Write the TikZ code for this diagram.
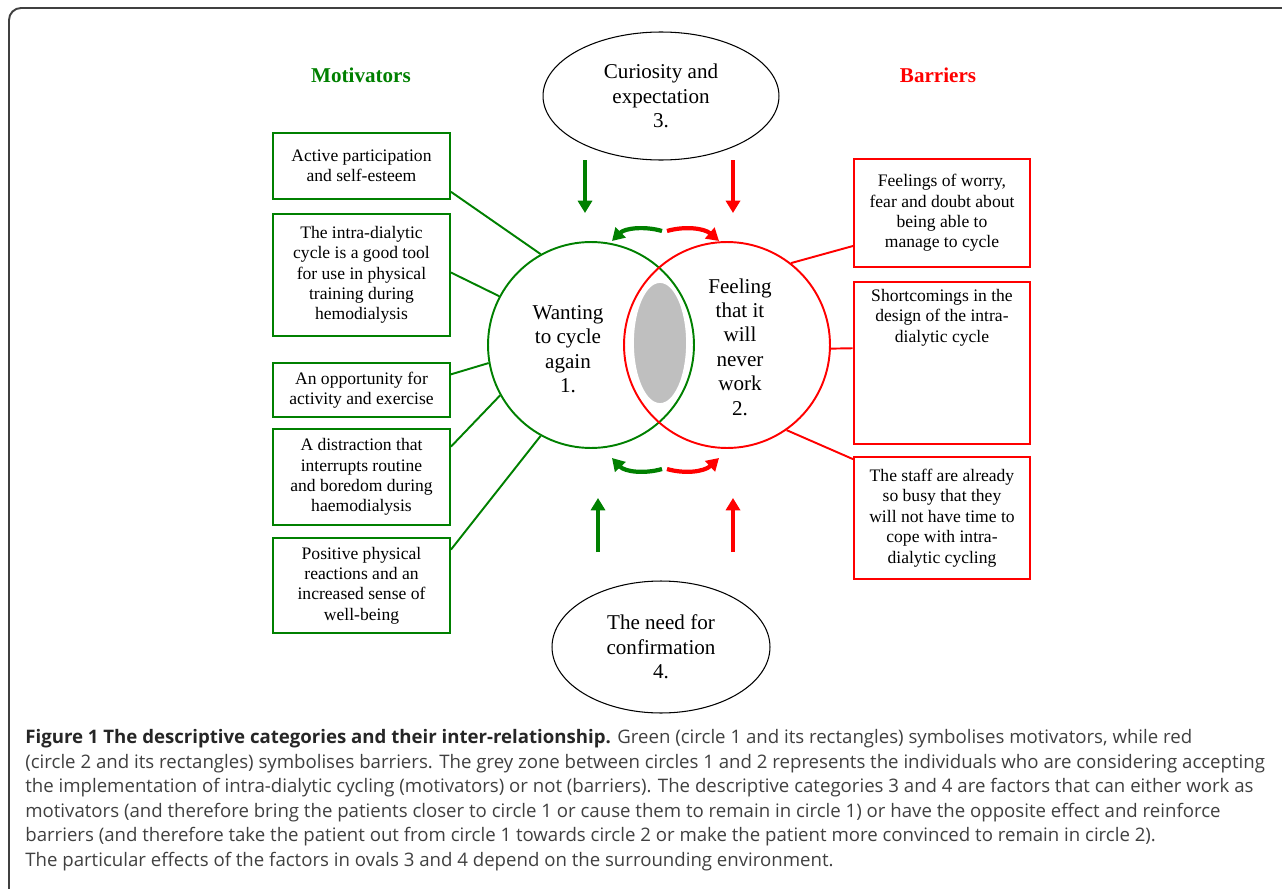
\documentclass[tikz,border=0pt]{standalone}
\usepackage{fontspec}
\setmainfont{Liberation Serif}
\newfontfamily\captionfont{Open Sans}
\usetikzlibrary{shapes.geometric,arrows.meta,calc}
\definecolor{motgreen}{RGB}{0,128,0}
\definecolor{barred}{RGB}{255,0,0}

\begin{document}
\begin{tikzpicture}[x=0.02cm,y=-0.02cm]

\tikzset{motbox/.style={draw=motgreen, line width=1.1pt, rectangle, minimum width=3.54cm, align=center, font=\fontsize{10}{11.6}\selectfont}}
\tikzset{barbox/.style={draw=barred, line width=1.1pt, rectangle, minimum width=3.52cm, align=center, font=\fontsize{10}{11.6}\selectfont}}
\tikzset{motline/.style={draw=motgreen, line width=1.1pt}}
\tikzset{barline/.style={draw=barred, line width=1.1pt}}
\tikzset{factor/.style={draw, ellipse, line width=0.6pt, inner sep=0pt, align=center, font=\fontsize{12}{13.9}\selectfont}}
\tikzset{bigtext/.style={align=center, font=\fontsize{12}{13.9}\selectfont}}
\tikzset{push/.style={line width=2.4pt, -{Triangle[width=8pt,length=7pt]}}}

\useasboundingbox (0,0) rectangle (1282,889);

% frame
\draw[line width=1.1pt, black!75, rounded corners=0.24cm] (9,889) -- (9,8) -- (1282,8);

% column titles
\node[text=motgreen, font=\fontsize{12}{14}\selectfont\bfseries] at (361,75) (mottitle) {Motivators};
\node[text=barred, font=\fontsize{12}{14}\selectfont\bfseries] at (938,75) (bartitle) {Barriers};

% circles 1 and 2, grey zone
\node[circle, draw=motgreen, line width=1.1pt, minimum size=4.12cm, inner sep=0pt] at (591,345) (want) {};
\node[circle, draw=barred, line width=1.1pt, minimum size=4.12cm, inner sep=0pt] at (727,345) (never) {};
\node[ellipse, fill=gray!50, draw=white, line width=1pt, minimum width=1.08cm, minimum height=2.44cm, inner sep=0pt] at (660,343) (grey) {};
\node[bigtext] at (568,349) (wanttext) {Wanting\\to cycle\\again\\1.};
\node[bigtext] at (740,347) (nevertext) {Feeling\\that it\\will\\never\\work\\2.};

% ovals 3 and 4
\node[factor, minimum width=4.72cm, minimum height=2.56cm] at (661,96) (curious) {Curiosity and\\expectation\\3.};
\node[factor, minimum width=4.36cm, minimum height=2.64cm] at (661,647) (confirm) {The need for\\confirmation\\4.};

% motivators
\node[motbox, minimum height=1.32cm] at (361.5,166) (m1) {Active participation\\and self-esteem};
\node[motbox, minimum height=2.44cm] at (361.5,275) (m2) {The intra-dialytic\\cycle is a good tool\\for use in physical\\training during\\hemodialysis};
\node[motbox, minimum height=1.08cm] at (361.5,390) (m3) {An opportunity for\\activity and exercise};
\node[motbox, minimum height=1.92cm] at (361.5,477) (m4) {A distraction that\\interrupts routine\\and boredom during\\ haemodialysis};
\node[motbox, minimum height=1.9cm] at (361.5,585.5) (m5) {Positive physical\\reactions and an\\increased sense of\\well-being};

% barriers
\node[barbox, minimum height=2.16cm] at (942,213) (b1) {Feelings of worry,\\fear and doubt about\\being able to\\manage to cycle};
\node[barbox, minimum height=3.24cm] at (942,363) (b2) {\begin{minipage}[t][2.95cm][t]{3.3cm}\centering Shortcomings in the\\design of the intra-\\dialytic cycle\end{minipage}};
\node[barbox, minimum height=2.44cm] at (942,518) (b3) {The staff are already\\so busy that they\\will not have time to\\cope with intra-\\dialytic cycling};

% links
\draw[motline] ($(m1.south east)!0.12!(m1.north east)$) -- (want.119);
\draw[motline] ($(m2.south east)!0.52!(m2.north east)$) -- (want.152);
\draw[motline] ($(m3.south east)!0.78!(m3.north east)$) -- (want.190);
\draw[motline] ($(m4.south east)!0.81!(m4.north east)$) -- (want.209);
\draw[motline] ($(m5.south east)!0.87!(m5.north east)$) -- (want.241);
\draw[barline] ($(b1.south west)!0.2!(b1.north west)$) -- (never.52);
\draw[barline] ($(b2.south west)!0.59!(b2.north west)$) -- (never.-2);
\draw[barline] ($(b3.south west)!0.975!(b3.north west)$) -- (never.-55);

% pushes from the ovals
\coordinate (gtop) at (585,160);  \coordinate (gtopend) at (585,213);
\coordinate (rtop) at (733,160);  \coordinate (rtopend) at (733,213);
\coordinate (gbot) at (598,552);  \coordinate (gbotend) at (598,498);
\coordinate (rbot) at (733,552);  \coordinate (rbotend) at (733,498);
\draw[push, motgreen] (gtop) -- (gtopend);
\draw[push, barred] (rtop) -- (rtopend);
\draw[push, motgreen] (gbot) -- (gbotend);
\draw[push, barred] (rbot) -- (rbotend);

% swings between the circles
\coordinate (gup) at (662,231);  \coordinate (gupend) at (612,241);
\coordinate (rup) at (667,231);  \coordinate (rupend) at (719,241);
\coordinate (gdown) at (662,469);  \coordinate (gdownend) at (612,458);
\coordinate (rdown) at (667,469);  \coordinate (rdownend) at (719,458);
\draw[push, motgreen] (gup) .. controls (645,226) and (625,228) .. (gupend);
\draw[push, barred] (rup) .. controls (684,226) and (704,228) .. (rupend);
\draw[push, motgreen] (gdown) .. controls (645,474) and (625,472) .. (gdownend);
\draw[push, barred] (rdown) .. controls (684,474) and (704,472) .. (rdownend);

% caption
\node[anchor=base west, align=left, inner sep=0pt, text=black!75, font=\captionfont\fontsize{10.6}{13.9}\selectfont] at (25,866) (caption) {{\bfseries\color{black!85}Figure 1 The descriptive categories and their inter-relationship.} Green (circle 1 and its rectangles) symbolises motivators, while red\\(circle 2 and its rectangles) symbolises barriers. The grey zone between circles 1 and 2 represents the individuals who are considering accepting\\the implementation of intra-dialytic cycling (motivators) or not (barriers). The descriptive categories 3 and 4 are factors that can either work as\\motivators (and therefore bring the patients closer to circle 1 or cause them to remain in circle 1) or have the opposite effect and reinforce\\barriers (and therefore take the patient out from circle 1 towards circle 2 or make the patient more convinced to remain in circle 2).\\The particular effects of the factors in ovals 3 and 4 depend on the surrounding environment.};

\end{tikzpicture}
\end{document}
